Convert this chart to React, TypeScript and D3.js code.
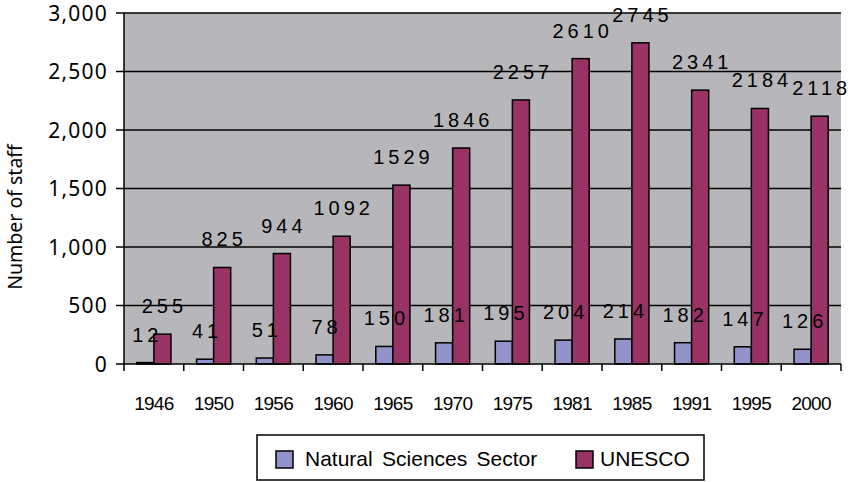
import React from "react";
import * as d3 from "d3";

const years = ["1946","1950","1956","1960","1965","1970","1975","1981","1985","1991","1995","2000"];
const naturalSciences = [12,41,51,78,150,181,195,204,214,182,147,126];
const unesco = [255,825,944,1092,1529,1846,2257,2610,2745,2341,2184,2118];
const seriesNames = ["Natural Sciences Sector","UNESCO"];
const seriesColors = ["#9393CB","#993366"];
const yTicks = [0,500,1000,1500,2000,2500,3000];

export default function App() {
  const W = 851, H = 482;
  const left = 124, right = 841, top = 13, bottom = 364;
  const x0 = d3.scaleBand<string>().domain(years).range([left, right]).padding(0);
  const x1 = d3.scaleBand<string>().domain(seriesNames).range([0, x0.bandwidth()]).paddingInner(0).paddingOuter(0.75);
  const y = d3.scaleLinear().domain([0, 3000]).range([bottom, top]);
  const fmt = d3.format(",");
  const series = [naturalSciences, unesco];
  const boundaries = years.map((yr) => x0(yr)!).concat([right]);

  return (
    <svg width={W} height={H} style={{ position: "absolute", left: 0, top: 0, background: "#fff" }}>
      <rect x={left} y={top} width={right - left} height={bottom - top} fill="#B7B7BB" />
      {yTicks.map((t) => (
        <g key={t}>
          {t > 0 && <line x1={left} x2={right} y1={y(t)} y2={y(t)} stroke="#000" strokeWidth={1.5} />}
          <line x1={left - 8} x2={left} y1={y(t)} y2={y(t)} stroke="#000" strokeWidth={1.5} />
          <text x={108} y={y(t)} dy="0.36em" textAnchor="end" fontFamily="'Noto Sans', sans-serif" fontSize={21} letterSpacing={1.2} fill="#000">{fmt(t)}</text>
        </g>
      ))}
      {years.map((yr, i) => (
        <g key={yr}>
          {series.map((vals, s) => {
            const bx = x0(yr)! + x1(seriesNames[s])!;
            const bw = x1.bandwidth();
            return (
              <rect key={s} x={bx} y={y(vals[i])} width={bw} height={bottom - y(vals[i])} fill={seriesColors[s]} stroke="#000" strokeWidth={1.5} />
            );
          })}
        </g>
      ))}
      <line x1={left} x2={left} y1={top} y2={bottom} stroke="#000" strokeWidth={1.5} />
      <line x1={left} x2={right} y1={bottom} y2={bottom} stroke="#000" strokeWidth={1.5} />
      {boundaries.map((bx, i) => (
        <line key={i} x1={bx} x2={bx} y1={bottom} y2={bottom + 7} stroke="#000" strokeWidth={1.5} />
      ))}
      {years.map((yr) => (
        <text key={yr} x={x0(yr)! + x0.bandwidth() / 2} y={410} textAnchor="middle" fontFamily="'Liberation Sans', Arial, sans-serif" fontSize={19} letterSpacing={-0.8} fill="#000">{yr}</text>
      ))}
      {years.map((yr, i) => (
        <g key={"l" + yr}>
          {series.map((vals, s) => {
            const cx = x0(yr)! + x1(seriesNames[s])! + x1.bandwidth() / 2;
            return (
              <text key={s} x={cx + 2} y={y(vals[i]) - 21} textAnchor="middle" fontFamily="'Liberation Sans', Arial, sans-serif" fontSize={20} letterSpacing={4} fill="#000">{vals[i]}</text>
            );
          })}
        </g>
      ))}
      <text transform={`translate(22, 217) rotate(-90)`} textAnchor="middle" fontFamily="'Noto Sans', sans-serif" fontSize={19.5} fill="#000">Number of staff</text>
      <rect x={257} y={435} width={447} height={45} fill="#fff" stroke="#000" strokeWidth={1.5} />
      <rect x={276} y={451} width={17} height={17} fill={seriesColors[0]} stroke="#000" strokeWidth={1.5} />
      <text x={305} y={466} fontFamily="'Liberation Sans', Arial, sans-serif" fontSize={21} wordSpacing={3.5} fill="#000">{seriesNames[0]}</text>
      <rect x={576} y={451} width={17} height={17} fill={seriesColors[1]} stroke="#000" strokeWidth={1.5} />
      <text x={600} y={466} fontFamily="'Liberation Sans', Arial, sans-serif" fontSize={21} fill="#000">{seriesNames[1]}</text>
    </svg>
  );
}
